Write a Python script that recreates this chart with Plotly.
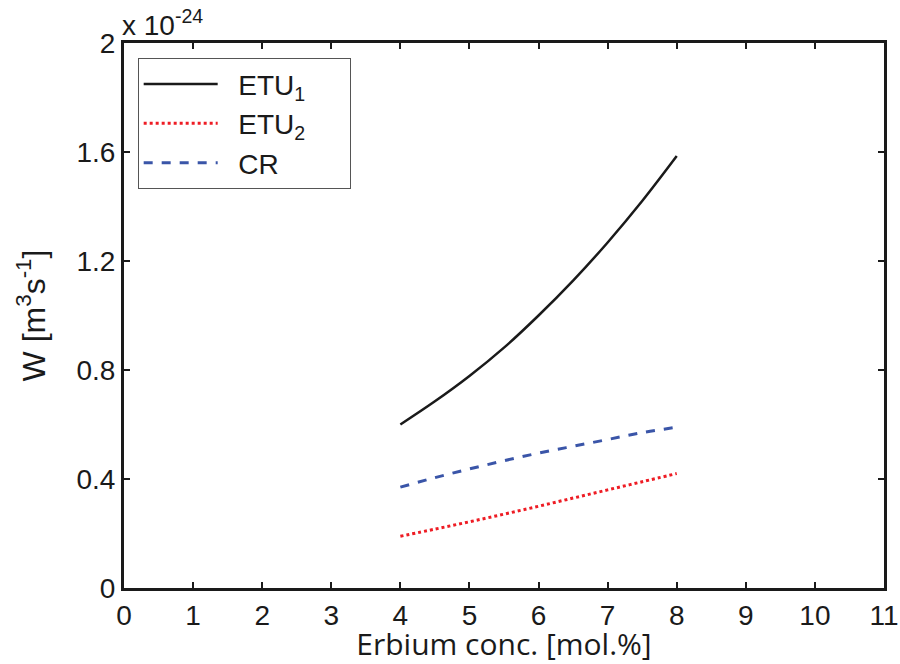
import plotly.graph_objects as go

x_conc = [4, 4.5, 5, 5.5, 6, 6.5, 7, 7.5, 8]
etu1 = [0.60, 0.685, 0.778, 0.882, 1.0, 1.128, 1.268, 1.42, 1.585]
etu2 = [0.19, 0.216, 0.243, 0.271, 0.30, 0.33, 0.36, 0.39, 0.42]
cr = [0.37, 0.405, 0.437, 0.467, 0.495, 0.52, 0.545, 0.57, 0.59]

x_ticks = list(range(0, 12))
y_ticks = [0, 0.4, 0.8, 1.2, 1.6, 2.0]
y_tick_labels = ["0", "0.4", "0.8", "1.2", "1.6", "2"]

FONT = "Liberation Sans, Arial, sans-serif"
TITLE_FONT = "Open Sans, Liberation Sans, sans-serif"

PAD_L = "&nbsp;&nbsp;"
PAD_R = "&nbsp;" * 5

fig = go.Figure()
fig.add_trace(go.Scatter(x=x_conc, y=etu1, mode="lines", name=PAD_L + "ETU<sub>1</sub>" + PAD_R,
                         line=dict(color="#1a1a1a", width=2.5, dash="solid", shape="spline")))
fig.add_trace(go.Scatter(x=x_conc, y=etu2, mode="lines", name=PAD_L + "ETU<sub>2</sub>" + PAD_R,
                         line=dict(color="#ee1c24", width=3, dash="dot", shape="spline")))
fig.add_trace(go.Scatter(x=x_conc, y=cr, mode="lines", name=PAD_L + "CR",
                         line=dict(color="#3a55a8", width=3, dash="dash", shape="spline")))

axis_common = dict(showline=True, linecolor="#1a1a1a", linewidth=3, mirror="ticks",
                   ticks="inside", ticklen=6, tickwidth=2, tickcolor="#1a1a1a",
                   showgrid=False, zeroline=False, automargin=False,
                   ticklabeloverflow="allow",
                   tickfont=dict(family=FONT, size=28, color="#1a1a1a"))

fig.update_layout(
    width=900, height=664,
    margin=dict(l=124, r=16, t=43, b=76),
    paper_bgcolor="white", plot_bgcolor="white",
    font=dict(family=FONT, color="#1a1a1a"),
    xaxis=dict(range=[0, 11], tickvals=x_ticks, ticklabelstandoff=0, **axis_common,
               title=dict(text="Erbium conc. [mol.%]", font=dict(family=TITLE_FONT, size=30), standoff=4)),
    yaxis=dict(range=[0, 2], tickvals=y_ticks, ticktext=y_tick_labels, **axis_common,
               title=dict(text="W [m<sup>3</sup>s<sup>-1</sup>]", font=dict(family=FONT, size=32), standoff=22)),
    legend=dict(x=0.018, y=0.972, xanchor="left", yanchor="top",
                bgcolor="white", bordercolor="#555555", borderwidth=1,
                font=dict(family=FONT, size=28, color="#1a1a1a"),
                itemwidth=74, tracegroupgap=0),
    showlegend=True,
)

fig.add_annotation(text="x 10<sup>-24</sup>", xref="paper", yref="paper", x=0, y=1,
                   xanchor="left", yanchor="bottom", showarrow=False, yshift=0, xshift=-4,
                   font=dict(family=FONT, size=28, color="#1a1a1a"))

fig.write_html("out.html", config={"displayModeBar": False},
               post_script="document.body.style.margin='0px';")
